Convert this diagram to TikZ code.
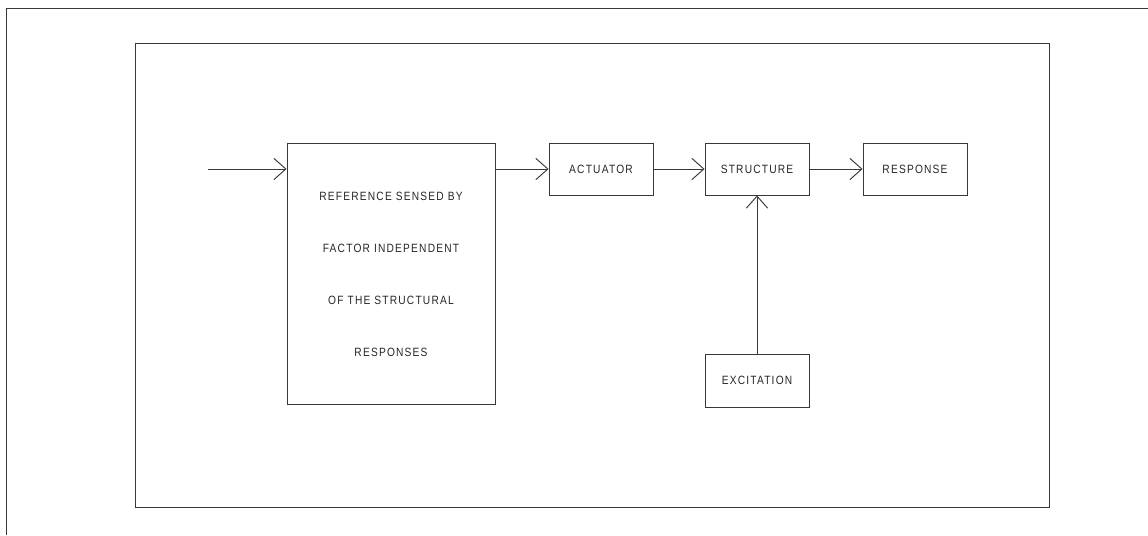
\documentclass[tikz,border=0pt]{standalone}
\usepackage{fontspec}
\setmainfont{Liberation Sans}[LetterSpace=10,FakeStretch=0.85]
\usetikzlibrary{arrows.meta}
\tikzset{
  ln/.style={draw=black!78, line width=0.7pt},
  blk/.style={ln, rectangle, inner sep=0pt, font=\fontsize{9}{10.8}\selectfont, text=black!85},
  arr/.style={ln, -{Straight Barb[length=9pt,width=16pt,line width=0.7pt]}},
}
\begin{document}
\begin{tikzpicture}[x=0.75pt,y=-0.75pt]
\useasboundingbox (0,0) rectangle (1148,535);
% frames
\draw[ln] (6,535) -- (6,8) -- (1148,8);
\draw[ln] (135,43) rectangle (1049,507);
% blocks
\node[blk, minimum width=156pt, minimum height=195.75pt] (main) at (391,273.5) {};
\node[font=\fontsize{9}{39}\selectfont, text=black!85, align=center] (maintext) at (391,274.5)
  {REFERENCE SENSED BY\\FACTOR INDEPENDENT\\OF THE STRUCTURAL\\RESPONSES};
\node[blk, minimum width=78pt, minimum height=39pt] (act) at (601,169) {ACTUATOR};
\node[blk, minimum width=78pt, minimum height=39pt] (str) at (757,169) {STRUCTURE};
\node[blk, minimum width=78pt, minimum height=39pt] (resp) at (915,169) {RESPONSE};
\node[blk, minimum width=78pt, minimum height=39.75pt] (exc) at (757,380.5) {EXCITATION};
% connectors
\coordinate (in) at (208,169);
\draw[arr] (in) -- (in -| main.west);
\draw[arr] (main.east |- act.west) -- (act.west);
\draw[arr] (act.east) -- (str.west);
\draw[arr] (str.east) -- (resp.west);
\draw[arr] (exc.north) -- (str.south);
\end{tikzpicture}
\end{document}
